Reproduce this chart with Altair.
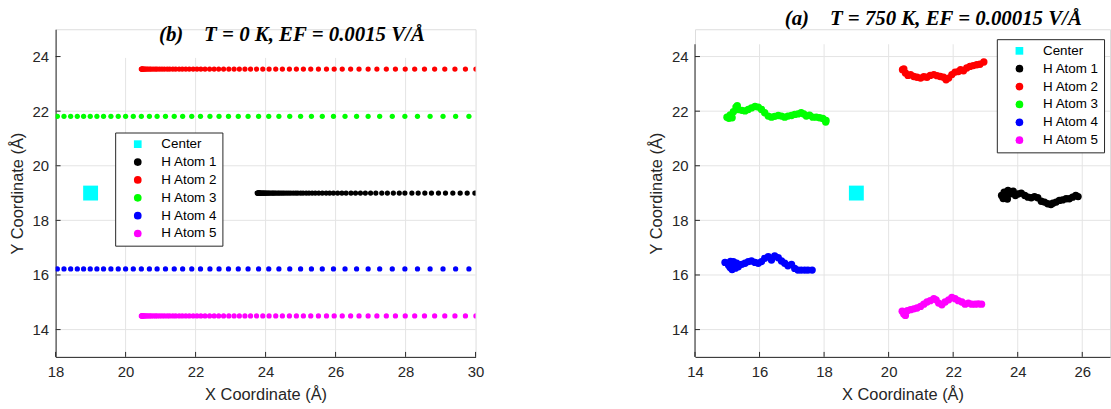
import altair as alt
import pandas as pd

SERIES = ["Center", "H Atom 1", "H Atom 2", "H Atom 3", "H Atom 4", "H Atom 5"]
COLORS = ["#00ffff", "#000000", "#ff0000", "#00ff00", "#0000ff", "#ff00ff"]
SHAPES = ["square", "circle", "circle", "circle", "circle", "circle"]

# ---------------- Panel (b): T = 0 K ----------------
b_center_x = [19.0]
b_center_y = [19.0]

b_h1_x = [23.76, 23.77, 23.78, 23.79, 23.80, 23.81, 23.82, 23.83, 23.835, 23.85,
          23.87, 23.89, 23.91, 23.93, 23.95, 23.97, 23.996, 24.02, 24.05, 24.08,
          24.11, 24.15, 24.19, 24.22, 24.26, 24.30, 24.35, 24.39, 24.44, 24.49,
          24.54, 24.60, 24.66, 24.72, 24.79, 24.86, 24.92, 25.00, 25.07, 25.16,
          25.24, 25.33, 25.42, 25.52, 25.62, 25.73, 25.83, 25.94, 26.06, 26.18,
          26.30, 26.44, 26.57, 26.71, 26.85, 27.00, 27.15, 27.32, 27.48, 27.65,
          27.82, 27.98, 28.18, 28.36, 28.55, 28.74, 28.94, 29.14, 29.35, 29.56,
          29.76, 29.98]
b_h1_y = 19.0

b_h2_x = [20.45, 20.46, 20.47, 20.48, 20.49, 20.51, 20.535, 20.56, 20.60, 20.64,
          20.69, 20.73, 20.79, 20.85, 20.90, 20.97, 21.04, 21.11, 21.19, 21.26,
          21.35, 21.43, 21.53, 21.62, 21.72, 21.82, 21.93, 22.04, 22.15, 22.27,
          22.40, 22.53, 22.66, 22.80, 22.95, 23.10, 23.25, 23.41, 23.57, 23.74,
          23.92, 24.10, 24.29, 24.48, 24.68, 24.88, 25.08, 25.29, 25.51, 25.74,
          25.96, 26.19, 26.43, 26.67, 26.93, 27.18, 27.45, 27.71, 27.99, 28.26,
          28.54, 28.83, 29.12, 29.41, 29.71, 30.01]
b_h2_y = 23.54

b_h3_x = [18.05, 18.24, 18.43, 18.62, 18.80, 18.99, 19.18, 19.37, 19.58, 19.79,
          20.00, 20.22, 20.45, 20.68, 20.90, 21.14, 21.39, 21.63, 21.89, 22.14,
          22.41, 22.67, 22.94, 23.22, 23.50, 23.80, 24.09, 24.38, 24.69, 25.00,
          25.31, 25.62, 25.94, 26.27, 26.60, 26.93, 27.26, 27.62, 27.98, 28.34,
          28.70, 29.07, 29.43, 29.81]
b_h3_y = 21.81

b_h4_x = list(b_h3_x)
b_h4_y = 16.22

b_h5_x = list(b_h2_x)
b_h5_y = 14.50

# ---------------- Panel (a): T = 750 K ----------------
a_center_x = [19.0]
a_center_y = [19.0]

a_h1_x = [23.50, 23.55, 23.58, 23.62, 23.65, 23.68, 23.70, 23.75, 23.86, 23.93,
          24.01, 24.11, 24.22, 24.32, 24.42, 24.52, 24.62, 24.73, 24.83, 24.93,
          25.03, 25.09, 25.19, 25.29, 25.39, 25.50, 25.60, 25.70, 25.80, 25.87]
a_h1_y = [18.91, 18.80, 19.03, 19.00, 18.85, 18.78, 19.10, 18.97, 19.07, 18.91,
          18.97, 19.00, 18.91, 18.85, 18.83, 18.87, 18.83, 18.70, 18.67, 18.61,
          18.58, 18.63, 18.67, 18.73, 18.75, 18.79, 18.79, 18.85, 18.91, 18.87]

a_h2_x = [20.43, 20.47, 20.52, 20.60, 20.68, 20.78, 20.88, 20.99, 21.09, 21.19,
          21.29, 21.40, 21.50, 21.60, 21.70, 21.78, 21.86, 21.96, 22.06, 22.16,
          22.23, 22.32, 22.42, 22.52, 22.62, 22.73, 22.83, 22.95]
a_h2_y = [23.52, 23.55, 23.40, 23.31, 23.34, 23.27, 23.24, 23.21, 23.26, 23.24,
          23.31, 23.34, 23.30, 23.27, 23.24, 23.15, 23.21, 23.34, 23.43, 23.45,
          23.52, 23.48, 23.58, 23.64, 23.67, 23.70, 23.72, 23.80]

a_h3_x = [14.99, 15.05, 15.09, 15.15, 15.19, 15.27, 15.31, 15.34, 15.45, 15.55,
          15.65, 15.75, 15.86, 15.96, 16.06, 16.16, 16.27, 16.37, 16.47, 16.58,
          16.68, 16.78, 16.88, 16.99, 17.09, 17.19, 17.29, 17.37, 17.45, 17.55,
          17.65, 17.76, 17.86, 17.96, 18.05, 18.06]
a_h3_y = [21.78, 21.74, 21.86, 21.76, 21.98, 22.15, 22.20, 22.06, 22.03, 22.01,
          22.06, 22.12, 22.17, 22.15, 22.06, 21.94, 21.82, 21.78, 21.81, 21.84,
          21.82, 21.78, 21.82, 21.84, 21.88, 21.90, 21.94, 21.90, 21.82, 21.85,
          21.78, 21.78, 21.76, 21.73, 21.60, 21.66]

a_h4_x = [14.93, 15.04, 15.09, 15.10, 15.15, 15.19, 15.25, 15.29, 15.34, 15.45,
          15.55, 15.65, 15.75, 15.86, 15.96, 16.06, 16.16, 16.27, 16.37, 16.47,
          16.58, 16.68, 16.78, 16.88, 16.99, 17.09, 17.19, 17.29, 17.40, 17.50,
          17.63]
a_h4_y = [16.46, 16.36, 16.27, 16.50, 16.20, 16.49, 16.25, 16.43, 16.30, 16.39,
          16.43, 16.49, 16.51, 16.46, 16.43, 16.49, 16.61, 16.67, 16.55, 16.70,
          16.63, 16.51, 16.43, 16.34, 16.39, 16.24, 16.18, 16.18, 16.18, 16.18,
          16.18]

a_h5_x = [20.42, 20.47, 20.52, 20.58, 20.68, 20.78, 20.88, 20.99, 21.09, 21.19,
          21.29, 21.40, 21.47, 21.55, 21.65, 21.75, 21.86, 21.96, 22.06, 22.16,
          22.27, 22.37, 22.47, 22.57, 22.68, 22.78, 22.88]
a_h5_y = [14.67, 14.57, 14.52, 14.69, 14.73, 14.76, 14.79, 14.85, 14.93, 15.01,
          15.06, 15.13, 15.09, 14.97, 14.91, 15.01, 15.09, 15.18, 15.13, 15.06,
          15.01, 14.93, 14.97, 14.93, 14.93, 14.94, 14.93]

# axes / grid values
b_xticks = [18, 20, 22, 24, 26, 28, 30]
a_xticks = [14, 16, 18, 20, 22, 24, 26]
yticks = [14, 16, 18, 20, 22, 24]
b_grid_x = [20, 22, 24, 26, 28]
b_grid_y = [14, 16, 18, 20, 22]
a_grid_x = [16, 18, 20, 22, 24, 26]
a_grid_y = [14, 16, 18, 20, 22, 24]

TEXT = "#262626"
GRID = "#e4e4e4"
SANS = "Liberation Sans"
XT = "X Coordinate (Å)"
YT = "Y Coordinate (Å)"
PLOT_H = 330
TICK_PX = 5


def build_atoms(xs_list, ys_list):
    rows = []
    for name, xs, ys in zip(SERIES[1:], xs_list, ys_list):
        if not isinstance(ys, list):
            ys = [ys] * len(xs)
        for xv, yv in zip(xs, ys):
            rows.append({"x": xv, "y": yv, "series": name})
    return pd.DataFrame(rows)


def panel(atoms, cx, cy, xdom, ydom, xticks, grid_x, grid_y, grid_top,
          axis_top, atom_size, title_text, title_dx, title_offset,
          leg_x, leg_y, width, draw_axis_rule):
    xs = alt.Scale(domain=xdom, nice=False, zero=False)
    ys = alt.Scale(domain=ydom, nice=False, zero=False)
    legend = alt.Legend(orient="none", legendX=leg_x, legendY=leg_y, title=None,
                        padding=5, symbolOffset=11, labelOffset=17, symbolSize=60,
                        labelFontSize=13.5, labelFont=SANS, labelColor="black",
                        rowPadding=3, strokeColor=TEXT, fillColor="white",
                        symbolStrokeWidth=0)
    color = alt.Color("series:N", scale=alt.Scale(domain=SERIES, range=COLORS), legend=legend)
    shape = alt.Shape("series:N", scale=alt.Scale(domain=SERIES, range=SHAPES), legend=legend)

    xaxis = alt.Axis(values=xticks, grid=False, ticks=False, tickSize=0, labelPadding=8,
                     labelFlush=False,
                     labelFontSize=15, labelFont=SANS, labelColor=TEXT,
                     titleFontSize=16.5, titleFont=SANS, titleColor=TEXT,
                     titleFontWeight="normal", titlePadding=7,
                     domainColor=TEXT, domainWidth=1)
    yaxis = alt.Axis(values=yticks, grid=False, ticks=False, tickSize=0, labelPadding=7,
                     labelFlush=False,
                     labelFontSize=15, labelFont=SANS, labelColor=TEXT,
                     titleFontSize=16.5, titleFont=SANS, titleColor=TEXT,
                     titleFontWeight="normal", titlePadding=7,
                     domain=not draw_axis_rule, domainColor=TEXT, domainWidth=1)

    def X(f):
        return alt.X(f, scale=xs, axis=xaxis, title=XT)

    def Y(f):
        return alt.Y(f, scale=ys, axis=yaxis, title=YT)

    gx = alt.Chart(pd.DataFrame({"gx": grid_x})).mark_rule(color=GRID, strokeWidth=1).encode(
        x=X("gx:Q"), y=alt.YDatum(ydom[0], axis=yaxis, title=YT), y2=alt.Y2Datum(grid_top))
    gy = alt.Chart(pd.DataFrame({"gy": grid_y})).mark_rule(color=GRID, strokeWidth=1).encode(
        y=Y("gy:Q"), x=alt.XDatum(xdom[0], axis=xaxis, title=XT), x2=alt.X2Datum(xdom[1]))
    layers = [gx, gy]
    if draw_axis_rule:
        ax = alt.Chart(pd.DataFrame({"ax": [xdom[0]]})).mark_rule(color=TEXT, strokeWidth=1).encode(
            x=X("ax:Q"), y=alt.YDatum(ydom[0], axis=yaxis, title=YT), y2=alt.Y2Datum(axis_top))
        layers.append(ax)

    # small inward tick marks (MATLAB style)
    x_len = TICK_PX * (xdom[1] - xdom[0]) / width
    y_len = TICK_PX * (ydom[1] - ydom[0]) / PLOT_H
    tx = alt.Chart(pd.DataFrame({"tx": xticks})).mark_rule(color=TEXT, strokeWidth=1).encode(
        x=X("tx:Q"), y=alt.YDatum(ydom[0], axis=yaxis, title=YT), y2=alt.Y2Datum(ydom[0] + y_len))
    ty = alt.Chart(pd.DataFrame({"ty": yticks})).mark_rule(color=TEXT, strokeWidth=1).encode(
        y=Y("ty:Q"), x=alt.XDatum(xdom[0], axis=xaxis, title=XT), x2=alt.X2Datum(xdom[0] + x_len))
    layers += [tx, ty]

    pts = alt.Chart(atoms).mark_point(filled=True, size=atom_size, opacity=1, clip=True).encode(
        x=X("x:Q"), y=Y("y:Q"), color=color, shape=shape)
    cen = alt.Chart(pd.DataFrame({"x": cx, "y": cy, "series": ["Center"]})).mark_point(
        filled=True, size=225, opacity=1).encode(
        x=X("x:Q"), y=Y("y:Q"), color=color, shape=shape)
    layers += [pts, cen]

    return alt.layer(*layers).properties(
        width=width, height=PLOT_H,
        title=alt.TitleParams(title_text, font="Liberation Serif", fontSize=21,
                              fontWeight="bold", fontStyle="italic", color="black",
                              anchor="middle", frame="group", dx=title_dx,
                              offset=title_offset, baseline="alphabetic"),
    )


b_atoms = build_atoms([b_h1_x, b_h2_x, b_h3_x, b_h4_x, b_h5_x],
                      [b_h1_y, b_h2_y, b_h3_y, b_h4_y, b_h5_y])
a_atoms = build_atoms([a_h1_x, a_h2_x, a_h3_x, a_h4_x, a_h5_x],
                      [a_h1_y, a_h2_y, a_h3_y, a_h4_y, a_h5_y])

NB = "\u00a0"
left = panel(b_atoms, b_center_x, b_center_y, [18, 30], [13, 25], b_xticks,
             b_grid_x, b_grid_y, 23.95, 25, 28,
             "(b)" + NB * 4 + "T = 0 K, EF = 0.0015 V/Å", 26.5, -33,
             60, 104, 423, False)
right = panel(a_atoms, a_center_x, a_center_y, [14, 26.86], [13, 25], a_xticks,
              a_grid_x, a_grid_y, 24.45, 24.45, 55,
              "(a)" + NB * 4 + "T = 750 K, EF = 0.00015 V/Å", 31, -17,
              304, 10, 418, True)

chart = alt.hconcat(left, right, spacing=164).resolve_scale(
    x="independent", y="independent", color="independent", shape="independent"
).resolve_legend(color="independent", shape="independent").properties(
    padding={"left": 8, "top": 6, "right": 0, "bottom": 0}
).configure_view(strokeWidth=0).configure(background="white")

chart.save("out.html", embed_options={"renderer": "svg", "actions": False})
